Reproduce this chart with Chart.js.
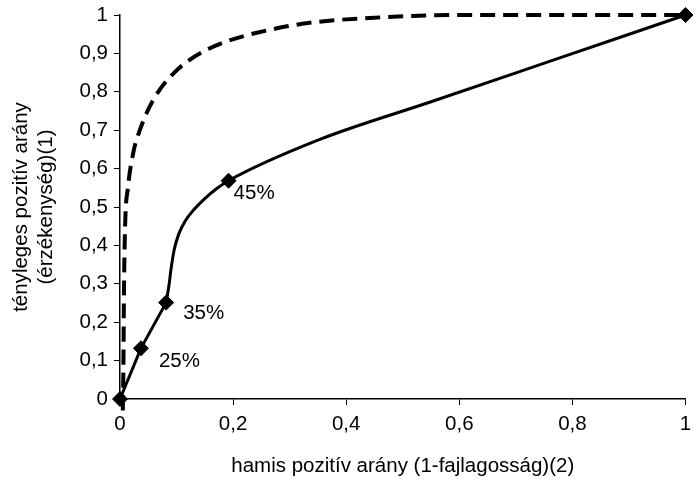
<!DOCTYPE html>
<html>
<head>
<meta charset="utf-8">
<script src="https://cdn.jsdelivr.net/npm/chart.js@4/dist/chart.umd.min.js"></script>
<style>
  html, body { margin: 0; padding: 0; background: #fff; }
  #wrap { width: 694px; height: 479px; }
</style>
</head>
<body>
<div id="wrap"><canvas id="c" width="694" height="479"></canvas></div>
<script>
// ROC curve of the model (solid line)
const solidX = [0, 0.037, 0.0816, 0.087, 0.090, 0.096, 0.104, 0.115, 0.130, 0.150, 0.170, 0.192, 0.35, 0.55, 0.775, 1];
const solidY = [0, 0.132, 0.251, 0.300, 0.336, 0.390, 0.430, 0.463, 0.492, 0.522, 0.547, 0.5685, 0.674, 0.774, 0.887, 1];
// which solid points carry a diamond marker, and their labels
const solidMarked = [true, true, true, false, false, false, false, false, false, false, false, true, false, false, false, true];
const solidLabels = ['', '25%', '35%', '', '', '', '', '', '', '', '', '45%', '', '', '', ''];
// index where the straight lower part ends and the smooth upper part begins (kink at 35%)
const solidKink = 2;

// reference curve (dashed line)
const dashX = [0.005, 0.006, 0.007, 0.009, 0.014, 0.024, 0.035, 0.052, 0.070, 0.096, 0.122, 0.157, 0.192, 0.240, 0.332, 0.450, 0.600, 1];
const dashY = [-0.03, 0.08, 0.275, 0.45, 0.55, 0.645, 0.70, 0.76, 0.805, 0.85, 0.882, 0.912, 0.933, 0.953, 0.979, 0.993, 1, 1];

// axis ticks
const xTickValues = [0, 0.2, 0.4, 0.6, 0.8, 1];
const xTickLabels = ['0', '0,2', '0,4', '0,6', '0,8', '1'];
const yTickValues = [0, 0.1, 0.2, 0.3, 0.4, 0.5, 0.6, 0.7, 0.8, 0.9, 1];
const yTickLabels = ['0', '0,1', '0,2', '0,3', '0,4', '0,5', '0,6', '0,7', '0,8', '0,9', '1'];

const xTitle = 'hamis pozitív arány (1-fajlagosság)(2)';
const yTitle = ['tényleges pozitív arány', '(érzékenység)(1)'];

const FONT = '"Liberation Sans", Arial, sans-serif';
const FS = 20.5;

const pts = (xs, ys) => xs.map((x, i) => ({ x: x, y: ys[i] }));
const solidLower = pts(solidX, solidY).slice(0, solidKink + 1);
const solidUpper = pts(solidX, solidY).slice(solidKink);
const markerPts = pts(solidX, solidY).filter((p, i) => solidMarked[i]);
const dashData = pts(dashX, dashY);

function labelFor(values, labels, v) {
  for (let i = 0; i < values.length; i++) if (Math.abs(values[i] - v) < 1e-6) return labels[i];
  return '';
}

const labelOffsets = { '25%': [18, 13], '35%': [17, 11], '45%': [5, 13] };

const pointLabelPlugin = {
  id: 'pointLabels',
  afterDatasetsDraw(chart) {
    const xs = chart.scales.x, ys = chart.scales.y;
    const ctx = chart.ctx;
    ctx.save();
    ctx.font = FS + 'px ' + FONT;
    ctx.fillStyle = '#000';
    ctx.textAlign = 'left';
    ctx.textBaseline = 'middle';
    solidLabels.forEach((lab, i) => {
      if (!lab) return;
      const off = labelOffsets[lab] || [10, 10];
      ctx.fillText(lab, xs.getPixelForValue(solidX[i]) + off[0], ys.getPixelForValue(solidY[i]) + off[1]);
    });
    ctx.restore();
  }
};

const lineBase = { showLine: true, borderColor: '#000', pointRadius: 0, clip: false, fill: false };

new Chart(document.getElementById('c'), {
  type: 'scatter',
  data: {
    datasets: [
      Object.assign({}, lineBase, { data: dashData, borderWidth: 4, borderDash: [15, 8], cubicInterpolationMode: 'monotone' }),
      Object.assign({}, lineBase, { data: solidLower, borderWidth: 3, tension: 0 }),
      Object.assign({}, lineBase, { data: solidUpper, borderWidth: 3, cubicInterpolationMode: 'monotone' }),
      {
        data: markerPts,
        showLine: false,
        pointStyle: 'rectRot',
        pointRadius: 7.5,
        pointBackgroundColor: '#000',
        pointBorderColor: '#000',
        pointBorderWidth: 1,
        clip: false
      }
    ]
  },
  options: {
    responsive: false,
    animation: false,
    devicePixelRatio: 1,
    layout: { padding: { top: 15, right: 2, left: 0, bottom: 0 } },
    plugins: {
      legend: { display: false },
      tooltip: { enabled: false }
    },
    scales: {
      x: {
        type: 'linear',
        min: 0,
        max: 1,
        afterBuildTicks: s => { s.ticks = xTickValues.map(v => ({ value: v })); },
        afterFit: s => { s.height = 80; s.paddingLeft = 0; s.paddingRight = 0; },
        ticks: {
          color: '#000',
          font: { family: FONT, size: FS },
          padding: 7,
          maxRotation: 0,
          autoSkip: false,
          callback: v => labelFor(xTickValues, xTickLabels, v)
        },
        grid: { drawOnChartArea: false, drawTicks: true, tickLength: 6, color: '#000', lineWidth: 1 },
        border: { display: true, color: '#000', width: 1.5 },
        title: {
          display: true,
          text: xTitle,
          color: '#000',
          font: { family: FONT, size: FS },
          padding: { top: 6, bottom: 0 }
        }
      },
      y: {
        type: 'linear',
        min: 0,
        max: 1,
        afterBuildTicks: s => { s.ticks = yTickValues.map(v => ({ value: v })); },
        afterFit: s => { s.width = 120; s.paddingTop = 0; s.paddingBottom = 0; },
        ticks: {
          color: '#000',
          font: { family: FONT, size: FS },
          padding: 6,
          autoSkip: false,
          callback: v => labelFor(yTickValues, yTickLabels, v)
        },
        grid: { drawOnChartArea: false, drawTicks: true, tickLength: 6, color: '#000', lineWidth: 1 },
        border: { display: true, color: '#000', width: 1.5 },
        title: {
          display: true,
          text: yTitle,
          color: '#000',
          font: { family: FONT, size: FS, lineHeight: 1.2 },
          padding: { top: 9, bottom: 0 }
        }
      }
    }
  },
  plugins: [pointLabelPlugin]
});
</script>
</body>
</html>
